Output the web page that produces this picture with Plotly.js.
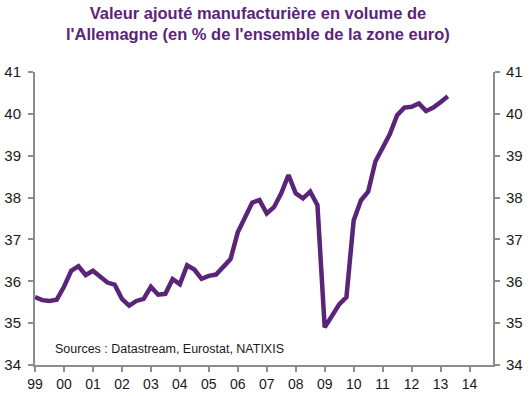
<!DOCTYPE html>
<html>
<head>
<meta charset="utf-8">
<script src="https://cdn.plot.ly/plotly-3.0.1.min.js"></script>
<style>html,body{margin:0;padding:0;background:#fff;}#chart{width:532px;height:396px;}</style>
</head>
<body>
<div id="chart"></div>
<script>
// Quarterly series, 1999 Q1 to 2013 Q2
const startYear = 1999;
const shareValues = [
  35.62, 35.55, 35.53, 35.56,   // 1999
  35.87, 36.25, 36.36, 36.15,   // 2000
  36.25, 36.11, 35.97, 35.92,   // 2001
  35.58, 35.42, 35.53, 35.58,   // 2002
  35.87, 35.68, 35.70, 36.05,   // 2003
  35.93, 36.38, 36.28, 36.06,   // 2004
  36.13, 36.16, 36.33, 36.53,   // 2005
  37.17, 37.54, 37.88, 37.94,   // 2006
  37.62, 37.77, 38.10, 38.54,   // 2007
  38.10, 37.98, 38.14, 37.82,   // 2008
  34.90, 35.17, 35.45, 35.62,   // 2009
  37.45, 37.93, 38.14, 38.86,   // 2010
  39.20, 39.52, 39.97, 40.15,   // 2011
  40.17, 40.25, 40.07, 40.15,   // 2012
  40.28, 40.42                  // 2013
];
const tickYears = [1999,2000,2001,2002,2003,2004,2005,2006,2007,2008,2009,2010,2011,2012,2013,2014];
const tickLabels = ["99","00","01","02","03","04","05","06","07","08","09","10","11","12","13","14"];
const yTicks = [34,35,36,37,38,39,40,41];
const titleText = "Valeur ajouté manufacturière en volume de<br>l'Allemagne (en % de l'ensemble de la zone euro)";
const sourceText = "Sources : Datastream, Eurostat, NATIXIS";

const xQuarter = shareValues.map((v, i) => startYear + i / 4);

const purple = "#5B2479";
const axisGrey = "#8C8C8C";
const font = "Liberation Sans, Arial, sans-serif";

const traces = [
  {x: xQuarter, y: shareValues, type: "scatter", mode: "lines",
   line: {color: purple, width: 4.5}, hoverinfo: "skip", yaxis: "y"},
  {x: xQuarter, y: shareValues, type: "scatter", mode: "lines",
   line: {color: "rgba(0,0,0,0)", width: 0}, hoverinfo: "skip", yaxis: "y2", showlegend: false}
];

const layout = {
  width: 532, height: 396,
  margin: {l: 35, r: 39, t: 72, b: 31, pad: 0},
  paper_bgcolor: "#fff", plot_bgcolor: "#fff",
  showlegend: false,
  font: {family: font, size: 14, color: "#1a1a1a"},
  xaxis: {
    range: [1999, 2014.81], tickmode: "array", tickvals: tickYears, ticktext: tickLabels,
    showline: true, linecolor: axisGrey, linewidth: 2, ticks: "outside", ticklen: 5,
    tickcolor: axisGrey, tickwidth: 2, showgrid: false, zeroline: false,
    tickfont: {family: font, size: 14, color: "#1a1a1a"}
  },
  yaxis: {
    range: [34, 41], tickmode: "array", tickvals: yTicks,
    showline: true, linecolor: axisGrey, linewidth: 2, ticks: "outside", ticklen: 5,
    tickcolor: axisGrey, tickwidth: 2, showgrid: false, zeroline: false,
    ticklabelstandoff: 4,
    tickfont: {family: font, size: 15, color: "#1a1a1a"}
  },
  yaxis2: {
    range: [34, 41], tickmode: "array", tickvals: yTicks, overlaying: "y", side: "right",
    showline: true, linecolor: axisGrey, linewidth: 2, ticks: "outside", ticklen: 5,
    tickcolor: axisGrey, tickwidth: 2, showgrid: false, zeroline: false,
    ticklabelstandoff: 3,
    tickfont: {family: font, size: 15, color: "#1a1a1a"}
  },
  annotations: [
    {
      text: "<b>" + titleText.replace("<br>", "</b><br><b>") + "</b>",
      xref: "paper", yref: "paper", x: 0.487, y: 1, yshift: 49,
      xanchor: "center", yanchor: "middle", align: "center",
      showarrow: false, font: {family: font, size: 16.5, color: purple}
    },
    {
      text: sourceText,
      xref: "paper", yref: "paper", x: 0.04, y: 0.055, xanchor: "left", yanchor: "middle",
      showarrow: false, font: {family: font, size: 12.5, color: "#1a1a1a"}
    }
  ]
};

Plotly.newPlot("chart", traces, layout, {displayModeBar: false, staticPlot: true});
</script>
</body>
</html>
